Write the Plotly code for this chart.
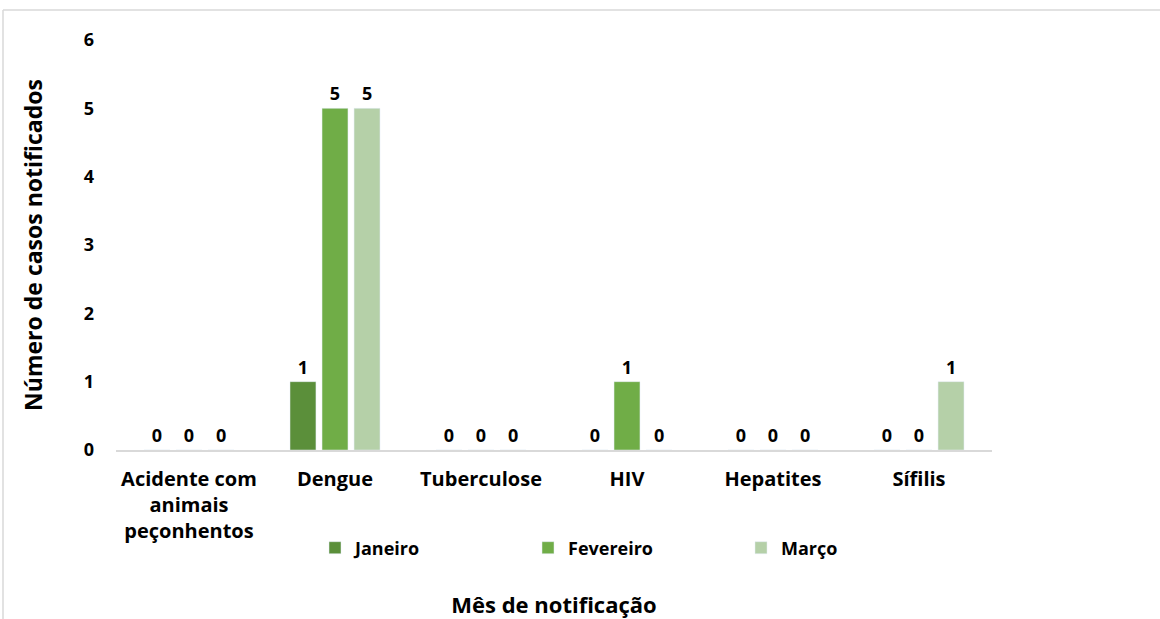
import plotly.graph_objects as go

categories = ["Acidente com<br>animais<br>peçonhentos", "Dengue", "Tuberculose", "HIV", "Hepatites", "Sífilis"]
series_names = ["Janeiro", "Fevereiro", "Março"]
janeiro = [0, 1, 0, 0, 0, 0]
fevereiro = [0, 5, 0, 1, 0, 0]
marco = [0, 5, 0, 0, 0, 1]
colors = ["#5b8f3a", "#70ad47", "#b5d0a8"]
y_ticks = [0, 1, 2, 3, 4, 5, 6]

FONT = "Open Sans"
fig = go.Figure()
for name, vals, col in zip(series_names, [janeiro, fevereiro, marco], colors):
    fig.add_trace(go.Bar(
        x=categories, y=vals, name=name, marker_color=col,
        text=vals, textposition="outside", cliponaxis=False,
        textfont=dict(family=FONT, size=18, color="black", weight="bold"),
    ))

W, H = 1160, 619
L, R, T, B = 116, 168, 40, 169
pw, ph = W - L - R, H - T - B
def px(x): return (x - L) / pw
def py(y): return (H - B - y) / ph

fig.update_layout(
    width=W, height=H,
    margin=dict(l=L, r=R, t=T, b=B, autoexpand=False),
    paper_bgcolor="white", plot_bgcolor="white",
    barmode="group", bargap=0.342, bargroupgap=0.19,
    font=dict(family=FONT, size=18, color="black", weight="bold"),
    showlegend=True,
    legend=dict(orientation="h", x=px(315), xanchor="left", y=py(548), yanchor="middle",
                entrywidth=168, entrywidthmode="pixels",
                font=dict(family=FONT, size=18, color="black", weight="bold")),
    xaxis=dict(showline=True, linecolor="#d9d9d9", linewidth=1.5, showgrid=False,
               ticks="", automargin=False, ticklabelstandoff=10,
               tickfont=dict(family=FONT, size=20, weight="bold"),
               title=dict(text="Mês de notificação", standoff=58,
                          font=dict(family=FONT, size=22, weight="bold"))),
    yaxis=dict(range=[0, 6], tickvals=y_ticks, showgrid=False, zeroline=False, showline=False,
               ticks="", ticklabelstandoff=21, automargin=False,
               tickfont=dict(family=FONT, size=18, weight="bold"),
               title=dict(text="Número de casos notificados", standoff=34,
                          font=dict(family=FONT, size=23, weight="bold"))),
    shapes=[
        dict(type="line", xref="paper", yref="paper", x0=px(3), x1=px(1160), y0=py(10), y1=py(10),
             line=dict(color="#d9d9d9", width=1.5)),
        dict(type="line", xref="paper", yref="paper", x0=px(3), x1=px(3), y0=py(10), y1=py(619),
             line=dict(color="#d9d9d9", width=1.5)),
    ],
)
fig.write_html("out.html", config={"displayModeBar": False},
               post_script="document.body.style.margin='0';")
